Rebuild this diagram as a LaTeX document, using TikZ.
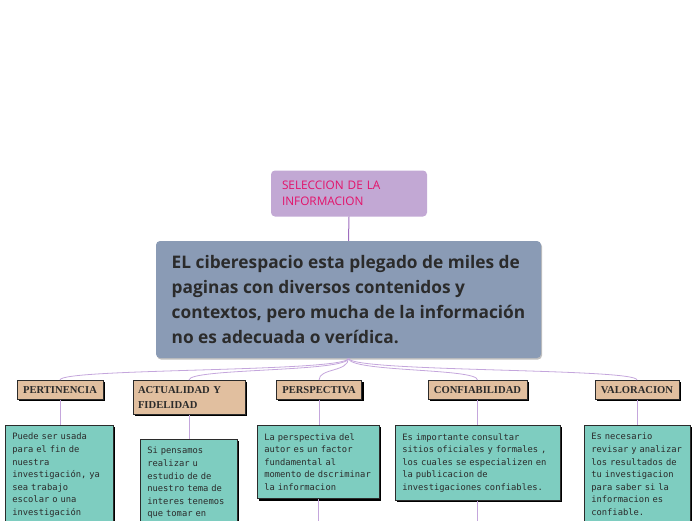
\documentclass[tikz,border=0pt]{standalone}
\usepackage{fontspec}
\usetikzlibrary{shadows}
\newfontfamily\mapfont{Open Sans}
\newfontfamily\headfont{Liberation Serif}
\newfontfamily\notefont{DejaVu Sans Mono}
\definecolor{mapink}{HTML}{2B2B2B}
\definecolor{rootfill}{HTML}{C2A8D4}
\definecolor{rootink}{HTML}{E3126A}
\definecolor{mainfill}{HTML}{8A9BB5}
\definecolor{topicfill}{HTML}{E1BF9F}
\definecolor{notefill}{HTML}{7ECDC0}
\definecolor{trunkline}{HTML}{9E6DBE}
\definecolor{branchline}{HTML}{C4A6DC}

\begin{document}
\begin{tikzpicture}[
  x=1pt,
  y=-1pt,
  every node/.style={mapink},
  rootbox/.style={fill=rootfill, rounded corners=4pt, inner xsep=11pt,
    text width=134pt, align=left, minimum height=46pt,
    font=\mapfont\fontsize{11.8}{15.5}\selectfont, text=rootink},
  mainbox/.style={fill=mainfill, rounded corners=4pt, inner sep=0pt,
    minimum width=385pt, minimum height=117pt, align=left,
    font=\mapfont\bfseries\fontsize{17.3}{25}\selectfont,
    drop shadow={shadow xshift=1pt, shadow yshift=-1.5pt,
      fill=black, opacity=0.25}},
  topic/.style={fill=topicfill, draw=mapink, line width=0.6pt,
    inner xsep=6pt, inner ysep=3pt, minimum height=19pt, align=left,
    font=\headfont\bfseries\fontsize{10.6}{15}\selectfont,
    drop shadow={shadow xshift=2pt, shadow yshift=-2pt,
      fill=black, opacity=1}},
  note/.style={fill=notefill, draw=mapink, line width=0.6pt,
    inner xsep=7pt, inner ysep=8pt, align=left,
    font=\notefont\fontsize{8.8}{12.6}\selectfont,
    drop shadow={shadow xshift=2pt, shadow yshift=-2pt,
      fill=black, opacity=1}},
  trunk/.style={trunkline, line width=1pt},
  branch/.style={branchline, line width=0.8pt}
]
  % ---- page: 696 x 520, the lower boxes run off the bottom edge
  \useasboundingbox (0,0) rectangle (696,520);
  \clip (0,0) rectangle (696,520);
  \coordinate (bottom) at (0,530);

  % ---- root and main statement ----------------------------------------
  \node[rootbox] (root) at (349,193.5)
    {SELECCION DE LA\\INFORMACION};
  \node[mainbox] (main) at (348.5,299.5)
    {EL ciberespacio esta plegado de miles de\\
     paginas con diversos contenidos y\\
     contextos, pero mucha de la información\\
     no es adecuada o verídica.};
  \draw[trunk] (root.south) -- (main.north);

  % ---- the five criteria ----------------------------------------------
  \node[topic, anchor=north] (pert) at (60,380) {PERTINENCIA};
  \node[topic, anchor=north, inner xsep=5pt, inner ysep=2pt,
    text width=102pt, minimum height=34pt] (actual) at (189,380)
    {ACTUALIDAD Y\\FIDELIDAD};
  \node[topic, anchor=north] (persp) at (319,380) {PERSPECTIVA};
  \node[topic, anchor=north] (confia) at (477.5,380) {CONFIABILIDAD};
  \node[topic, anchor=north] (valor) at (637,380) {VALORACION};

  \foreach \t in {pert, actual, persp, confia, valor}
    \draw[branch] (main.south) .. controls +(0,14) and +(0,-12) .. (\t.north);

  % ---- notes under each criterion -------------------------------------
  \node[note, anchor=north west, text width=94pt] (pertnote) at (5,425)
    {Puede ser usada\\para el fin de\\nuestra\\investigación, ya\\
     sea trabajo\\escolar o una\\investigación};
  \node[note, anchor=north west, text width=83pt] (actualnote) at (140,439)
    {Si pensamos\\realizar u\\estudio de de\\nuestro tema de\\
     interes tenemos\\que tomar en};
  \node[note, anchor=north west, text width=108pt] (perspnote) at (257,425)
    {La perspectiva del\\autor es un factor\\fundamental al\\
     momento de dscriminar\\la informacion};
  \node[note, anchor=north west, text width=151pt] (confianote) at (395,425)
    {Es importante consultar\\sitios oficiales y formales ,\\
     los cuales se especializen en\\la publicacion de\\
     investigaciones confiables.};
  \node[note, anchor=north west, text width=92pt] (valornote) at (584,425)
    {Es necesario\\revisar y analizar\\los resultados de\\
     tu investigacion\\para saber si la\\informacion es\\confiable.};

  \draw[branch] (pert.south) -- (pert.south |- pertnote.north);
  \draw[branch] (actual.south) -- (actual.south |- actualnote.north);
  \draw[branch] (persp.south) -- (persp.south |- perspnote.north);
  \draw[branch] (confia.south) -- (confia.south |- confianote.north);
  \draw[branch] (valor.south) -- (valor.south |- valornote.north);

  % ---- lines leaving the page -----------------------------------------
  \draw[branch] (perspnote.south) -- (perspnote.south |- bottom);
  \draw[branch] (confianote.south) -- (confianote.south |- bottom);
\end{tikzpicture}
\end{document}
